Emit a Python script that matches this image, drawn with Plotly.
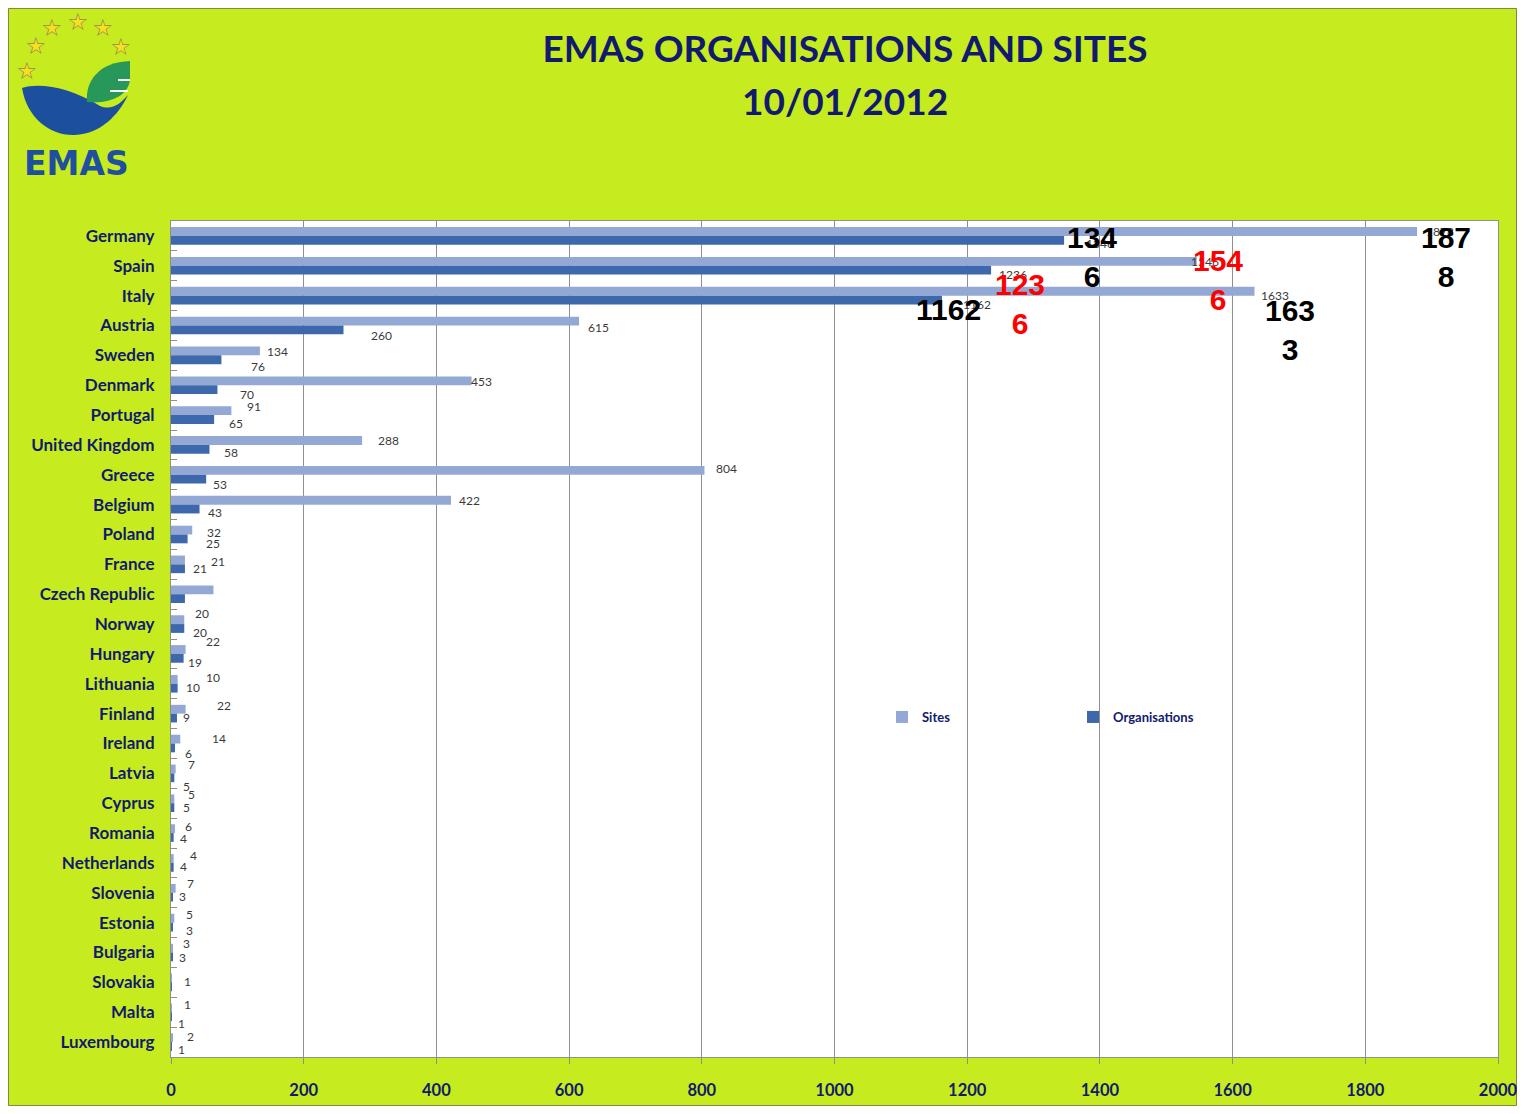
import plotly.graph_objects as go

# ---------------- data ----------------
countries = ["Germany", "Spain", "Italy", "Austria", "Sweden", "Denmark", "Portugal",
             "United Kingdom", "Greece", "Belgium", "Poland", "France", "Czech Republic",
             "Norway", "Hungary", "Lithuania", "Finland", "Ireland", "Latvia", "Cyprus",
             "Romania", "Netherlands", "Slovenia", "Estonia", "Bulgaria", "Slovakia",
             "Malta", "Luxembourg"]
sites = [1878, 1546, 1633, 615, 134, 453, 91, 288, 804, 422, 32, 21, 64, 20, 22, 10,
         22, 14, 7, 5, 6, 4, 7, 5, 3, 1, 1, 2]
organisations = [1346, 1236, 1162, 260, 76, 70, 65, 58, 53, 43, 25, 21, 21, 20, 19, 10,
                 9, 6, 5, 5, 4, 4, 3, 3, 3, 1, 1, 1]
# which small data labels are shown (Czech Republic has none, Slovakia only one)
sites_label_shown = [True] * 12 + [False] + [True] * 15
orgs_label_shown = [True] * 12 + [False] + [True] * 12 + [False] + [True] * 2

x_ticks = [0, 200, 400, 600, 800, 1000, 1200, 1400, 1600, 1800, 2000]
title_line1 = "EMAS ORGANISATIONS AND SITES"
title_line2 = "10/01/2012"

# small label offsets (px) relative to bar end / category centre (dy positive = down)
site_dx = [23, 8, 20, 19, 18, 10, 23, 26, 22, 18, 22, 33, 0, 18, 27, 35, 38, 39, 16, 17,
           14, 20, 15, 15, 14, 16, 16, 18]
site_dy = [-4, -4, 0, 1.5, -4, -4, -9, -4, -6, -4, -2.5, -3, 0, -11, -12, -6, -8, -5.5,
           -9, -9, -7, -7, -9, -8, -9.5, -1, -8, -6]
org_dx = [36, 22, 35, 38, 37, 30, 22, 21.5, 14, 15.5, 25, 15, 0, 16, 11, 15, 10, 14, 12,
          12, 10, 10, 10, 17, 10, 0, 10, 10]
org_dy = [8, 9, 9, 9.5, 11, 9, 8, 8, 10, 8, 8.5, 4, 0, 8, 9, 4, 4, 9.5, 13, 4, 5, 4, 4, 8,
          4.5, 0, 11, 7]

# large overlaid labels
big_cat = ["Germany", "Germany", "Spain", "Spain", "Italy", "Italy"]
big_series = ["orgs", "sites", "sites", "orgs", "orgs", "sites"]
big_wrap = [True, True, True, True, False, True]
big_color = ["#000000", "#000000", "#ff0000", "#ff0000", "#000000", "#000000"]
big_dx = [28, 29, 21, 29, 7, 35]
big_dy = [21, 21, 14, 38, 14, 34]

# ---------------- styling ----------------
OFF = 8  # page body margin
PAGE_W, PAGE_H = 1525, 1114
W, H = 1514, PAGE_H - 2 * OFF
PL, PR, PT, PB = 171, 1498, 221, 1057          # plot area in page pixels
ML, MT = PL - OFF, PT - OFF
MR, MB = W - (PR - OFF), H - (PB - OFF)
PW, PH = PR - PL, PB - PT
LIME = "#c6ec1f"
NAVY = "#111a6e"
SITE_COL = "#93a8d4"
ORG_COL = "#3d68ab"
GRID = "#8f8f8f"


def px(x):
    return (x - PL) / PW


def py(y):
    return (PB - y) / PH


fig = go.Figure()
fig.add_trace(go.Bar(y=countries, x=sites, name="Sites", orientation="h",
                     marker=dict(color=SITE_COL, line=dict(width=0))))
fig.add_trace(go.Bar(y=countries, x=organisations, name="Organisations", orientation="h",
                     marker=dict(color=ORG_COL, line=dict(width=0))))

annotations = []
small_font = dict(family="Lato", size=12, color="#3a3a3a")
for i, c in enumerate(countries):
    if sites_label_shown[i]:
        annotations.append(dict(x=sites[i], y=c, xref="x", yref="y", text=str(sites[i]),
                                showarrow=False, xanchor="center", yanchor="middle",
                                xshift=site_dx[i], yshift=-site_dy[i], font=small_font))
    if orgs_label_shown[i]:
        annotations.append(dict(x=organisations[i], y=c, xref="x", yref="y",
                                text=str(organisations[i]), showarrow=False,
                                xanchor="center", yanchor="middle",
                                xshift=org_dx[i], yshift=-org_dy[i], font=small_font))

for cat, ser, wrap, col, dx, dy in zip(big_cat, big_series, big_wrap, big_color, big_dx, big_dy):
    idx = countries.index(cat)
    val = sites[idx] if ser == "sites" else organisations[idx]
    s = str(val)
    txt = s[:3] + "<br>" + s[3:] if wrap else s
    annotations.append(dict(x=val, y=cat, xref="x", yref="y", text=txt, showarrow=False,
                            xanchor="center", yanchor="middle", xshift=dx, yshift=-dy,
                            font=dict(family="Liberation Sans", size=30, color=col,
                                      weight="bold")))

# second title line
annotations.append(dict(x=px(845), y=py(100), xref="paper", yref="paper", text=title_line2,
                        showarrow=False, xanchor="center", yanchor="middle",
                        font=dict(family="Lato", size=37, color=NAVY, weight="bold")))

# logo stars
for sx, sy in [(27, 71), (36, 46), (52, 28), (78, 22), (103, 28), (121, 47)]:
    annotations.append(dict(x=px(sx), y=py(sy), xref="paper", yref="paper", text="★",
                            showarrow=False, xanchor="center", yanchor="middle",
                            font=dict(family="DejaVu Sans", size=24, color="#f6e21c")))
    annotations.append(dict(x=px(sx), y=py(sy), xref="paper", yref="paper", text="☆",
                            showarrow=False, xanchor="center", yanchor="middle",
                            font=dict(family="DejaVu Sans", size=24, color="#8a8a5a")))
annotations.append(dict(x=px(76), y=py(163), xref="paper", yref="paper", text="EMAS",
                        showarrow=False, xanchor="center", yanchor="middle",
                        font=dict(family="DejaVu Sans", size=33,
                                  color="#1f4f9e", weight="bold")))


def path(points_cmds):
    out = []
    for cmd, pts in points_cmds:
        coords = " ".join(f"{px(a):.5f},{py(b):.5f}" for a, b in pts)
        out.append(f"{cmd} {coords}")
    return " ".join(out) + " Z"


shapes = [
    # slide border
    dict(type="rect", xref="paper", yref="paper", x0=px(8.5), x1=px(1516.5),
         y0=py(OFF + H - 0.5), y1=py(8.5), fillcolor="rgba(0,0,0,0)",
         line=dict(color="#7d8a40", width=1), layer="below"),
    # blue swoosh
    dict(type="path", xref="paper", yref="paper",
         path=path([("M", [(22, 88)]), ("C", [(40, 82), (72, 88), (100, 106)]),
                    ("C", [(112, 111), (121, 103), (128, 95)]),
                    ("C", [(118, 116), (100, 134), (75, 135)]),
                    ("C", [(50, 136), (27, 118), (22, 88)])]),
         fillcolor="#1d4f9f", line=dict(width=0), layer="above"),
    # green leaf
    dict(type="path", xref="paper", yref="paper",
         path=path([("M", [(87, 102)]), ("C", [(85, 80), (100, 62), (130, 61)]),
                    ("L", [(130, 80)]), ("C", [(128, 95), (112, 104), (87, 102)])]),
         fillcolor="#27985a", line=dict(width=0), layer="above"),
    dict(type="line", xref="paper", yref="paper", x0=px(118), x1=px(130), y0=py(80),
         y1=py(80), line=dict(color="white", width=2)),
    dict(type="line", xref="paper", yref="paper", x0=px(110), x1=px(128), y0=py(91),
         y1=py(91), line=dict(color="white", width=2)),
]

fig.update_layout(
    width=W, height=H,
    margin=dict(l=ML, r=MR, t=MT, b=MB, autoexpand=False),
    paper_bgcolor=LIME,
    plot_bgcolor="white",
    barmode="group",
    bargap=0.41,
    bargroupgap=0,
    title=dict(text=title_line1,
               font=dict(family="Lato", size=37, color=NAVY, weight="bold"),
               x=px(845), xref="paper", xanchor="center",
               y=1 - (49 - OFF) / H, yref="container", yanchor="middle"),
    xaxis=dict(range=[0, 2000], tickvals=x_ticks, showgrid=True, gridcolor=GRID,
               gridwidth=1, zeroline=False, ticks="outside", ticklen=6, tickcolor=GRID,
               showline=True, linecolor=GRID, linewidth=1, mirror=True,
               tickfont=dict(family="Lato", size=16.5, color=NAVY, weight="bold"),
               ticklabelstandoff=12, ticklabeloverflow="allow"),
    yaxis=dict(categoryorder="array", categoryarray=countries,
               range=[len(countries) - 0.5, -0.5], autorange=False,
               ticks="inside", tickson="boundaries", ticklen=6, tickcolor=GRID,
               showline=True, linecolor=GRID, linewidth=1, mirror=True, showgrid=False,
               tickfont=dict(family="Lato", size=17, color=NAVY, weight="bold"),
               ticklabelstandoff=12),
    legend=dict(orientation="h", x=px(882), y=py(717), xanchor="left", yanchor="middle",
                entrywidth=146, bgcolor="rgba(0,0,0,0)",
                font=dict(family="Lato", size=13, color=NAVY, weight="bold")),
    annotations=annotations,
    shapes=shapes,
)

fig.write_html("out.html")
